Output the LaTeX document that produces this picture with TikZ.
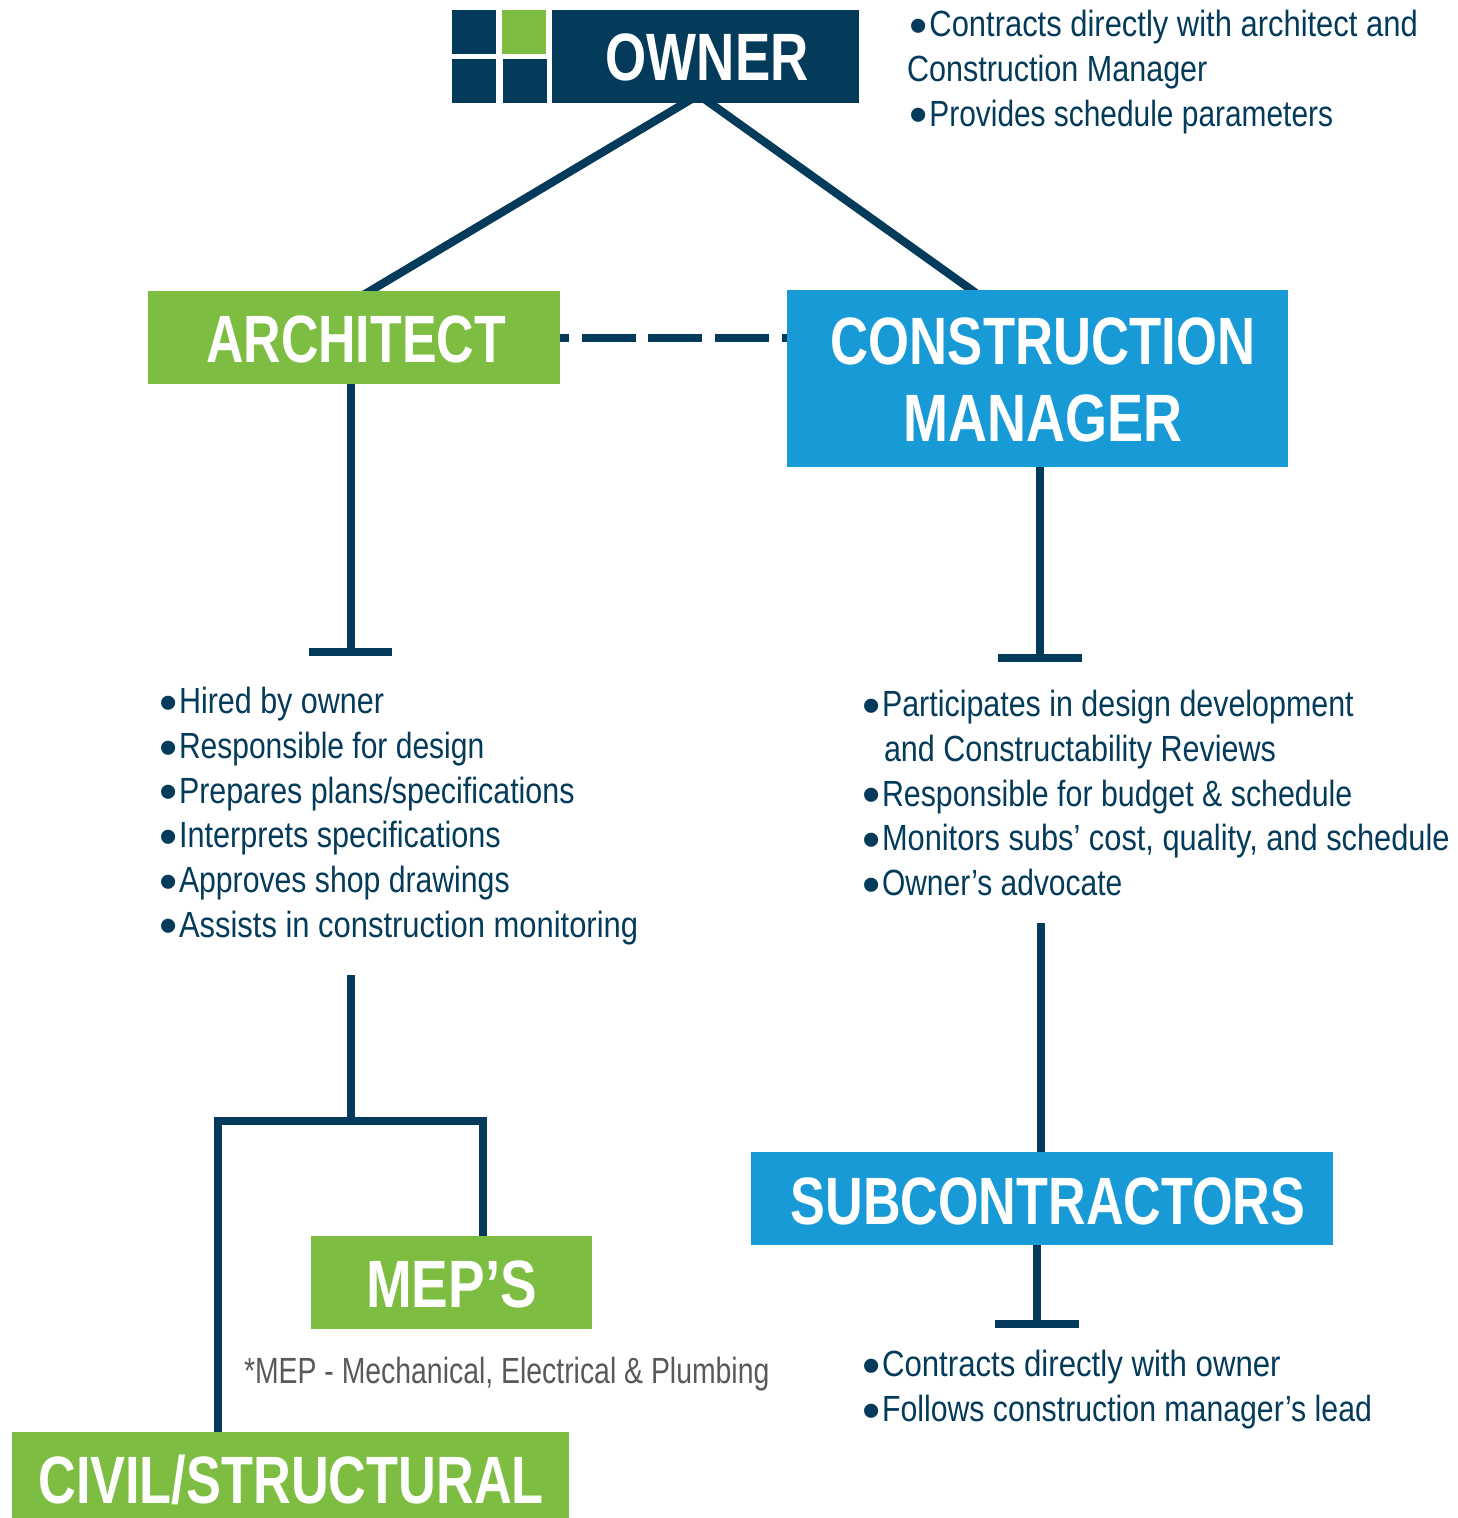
\documentclass[tikz,border=0pt]{standalone}
\usepackage{fontspec}
\usetikzlibrary{backgrounds}
\setmainfont{Liberation Sans}
\newfontfamily\bodyfont[FakeStretch=0.85]{Liberation Sans}
\newfontfamily\notefont[FakeStretch=0.78]{Liberation Sans}
\newfontfamily\headfont[FakeStretch=0.79]{Liberation Sans Bold}
\newfontfamily\dotfont{Liberation Sans}
\definecolor{navy}{HTML}{053B5A}
\definecolor{leaf}{HTML}{7DBD42}
\definecolor{sky}{HTML}{189AD6}
\definecolor{note}{HTML}{58595B}
\newcommand{\blt}{\raisebox{-3.25pt}{\dotfont\fontsize{26}{26}\selectfont •}\kern0.9pt}
% x offset, y offset, horizontal scale, text
\newcommand{\hdline}[4]{\hspace*{#1}\raisebox{#2}[24pt][0pt]{\scalebox{#3}[1]{#4}}}
% horizontal scale, text of one body line
\newcommand{\bodyline}[2]{\scalebox{#1}[1]{#2}}
\tikzset{
  headbox/.style={inner sep=0pt,outer sep=0pt,text=white,align=center,
    font=\headfont\fontsize{33.5}{38.5}\selectfont},
  tile/.style={inner sep=0pt,outer sep=0pt,anchor=north west,minimum width=22pt,minimum height=22pt},
  bodytext/.style={inner sep=0pt,outer sep=0pt,anchor=north west,align=left,text=navy,
    font=\bodyfont\fontsize{18.2}{22.35}\selectfont},
  notetext/.style={inner sep=0pt,outer sep=0pt,anchor=north west,align=left,text=note,
    font=\notefont\fontsize{18.2}{22.35}\selectfont},
  link/.style={draw=navy,line width=4.1pt},
}
\begin{document}
\begin{tikzpicture}[x=0.5pt,y=-0.5pt]
\useasboundingbox (0,0) rectangle (1457,1518);
% logo tiles
\node[tile,fill=navy] (t1) at (452,10) {};
\node[tile,fill=leaf] (t2) at (502,10) {};
\node[tile,fill=navy] (t3) at (452,59) {};
\node[tile,fill=navy] (t4) at (503,59) {};
% boxes
\node[headbox,fill=navy,minimum width=153.5pt,minimum height=46.5pt] (owner) at (705.5,56.5) {\hdline{1.7pt}{-0.25pt}{1}{OWNER}};
\node[headbox,fill=leaf,minimum width=206pt,minimum height=46.5pt] (arch) at (354,337.5) {\hdline{2pt}{-0.6pt}{0.98}{ARCHITECT}};
\node[headbox,fill=sky,minimum width=250.5pt,minimum height=88.5pt] (cm) at (1037.5,378.5) {\hdline{5.5pt}{-0.5pt}{0.995}{CONSTRUCTION}\\\hdline{5.5pt}{-0.5pt}{1.02}{MANAGER}};
\node[headbox,fill=sky,minimum width=291pt,minimum height=46.5pt] (subs) at (1042,1198.5) {\hdline{6pt}{-0.75pt}{0.985}{SUBCONTRACTORS}};
\node[headbox,fill=leaf,minimum width=140.5pt,minimum height=46.5pt] (mep) at (451.5,1282.5) {\hdline{0pt}{-0.5pt}{1.037}{MEP’S}};
\node[headbox,fill=leaf,minimum width=278.5pt,minimum height=43pt] (civil) at (290.5,1475) {\hdline{0.5pt}{-2pt}{0.988}{CIVIL/STRUCTURAL}};
% texts
\node[bodytext] (ownernotes) at (907,10.5) {\hspace*{1.2pt}\blt Contracts directly with architect and\\\bodyline{0.987}{Construction Manager}\\\hspace*{1.2pt}\blt \bodyline{0.966}{Provides schedule parameters}};
\node[bodytext] (archnotes) at (159,687.5) {\blt \bodyline{0.985}{Hired by owner}\\\blt \bodyline{0.97}{Responsible for design}\\\blt \bodyline{0.983}{Prepares plans/specifications}\\\blt \bodyline{0.99}{Interprets specifications}\\\blt \bodyline{0.976}{Approves shop drawings}\\\blt Assists in construction monitoring};
\node[bodytext] (cmnotes) at (862,690.5) {\blt \bodyline{0.983}{Participates in design development}\\\hspace*{11pt}\bodyline{0.987}{and Constructability Reviews}\\\blt \bodyline{0.98}{Responsible for budget \& schedule}\\\blt \bodyline{0.995}{Monitors subs’ cost, quality, and schedule}\\\blt \bodyline{0.968}{Owner’s advocate}};
\node[bodytext] (subnotes) at (862,1350.5) {\blt \bodyline{1.008}{Contracts directly with owner}\\\blt \bodyline{0.978}{Follows construction manager’s lead}};
\node[notetext] (mepnote) at (244,1357.5) {*MEP - Mechanical, Electrical \& Plumbing};
% connector ends
\coordinate (ownL) at (701.75,93);
\coordinate (ownR) at (696,93);
\coordinate (archTop) at (355,300);
\coordinate (cmTop) at (985.6,300);
\coordinate (archFoot) at (351,652);
\coordinate (archBarL) at (309,652);
\coordinate (archBarR) at (392,652);
\coordinate (cmFoot) at (1040,658);
\coordinate (cmBarL) at (998,658);
\coordinate (cmBarR) at (1082,658);
\coordinate (cmRise) at (1041,923);
\coordinate (subTop) at (1041,1152);
\coordinate (subFoot) at (1037,1324);
\coordinate (subBarL) at (995,1324);
\coordinate (subBarR) at (1079,1324);
\coordinate (archRise) at (351,975);
\coordinate (brJoin) at (351,1121);
\coordinate (brL) at (218,1121);
\coordinate (brR) at (483,1121);
\begin{scope}[on background layer]
\draw[link] (ownL) -- (archTop);
\draw[link] (ownR) -- (cmTop);
\draw[link] (arch.south -| archFoot) -- (archFoot);
\draw[link] (archBarL) -- (archBarR);
\draw[link] (cm.south -| cmFoot) -- (cmFoot);
\draw[link] (cmBarL) -- (cmBarR);
\draw[link] (cmRise) -- (subTop);
\draw[link] (subs.south -| subFoot) -- (subFoot);
\draw[link] (subBarL) -- (subBarR);
\draw[link] (archRise) -- (brJoin);
\draw[link,line join=miter] (civil.north -| brL) -- (brL) -- (brR) -- (mep.north -| brR);
\draw[link,dash pattern=on 4.5pt off 6.5pt on 27pt off 6.2pt on 27pt off 6.5pt on 27pt off 6.5pt] (arch.east |- 560,338) -- (cm.west |- 787,338);
\end{scope}
\end{tikzpicture}
\end{document}
